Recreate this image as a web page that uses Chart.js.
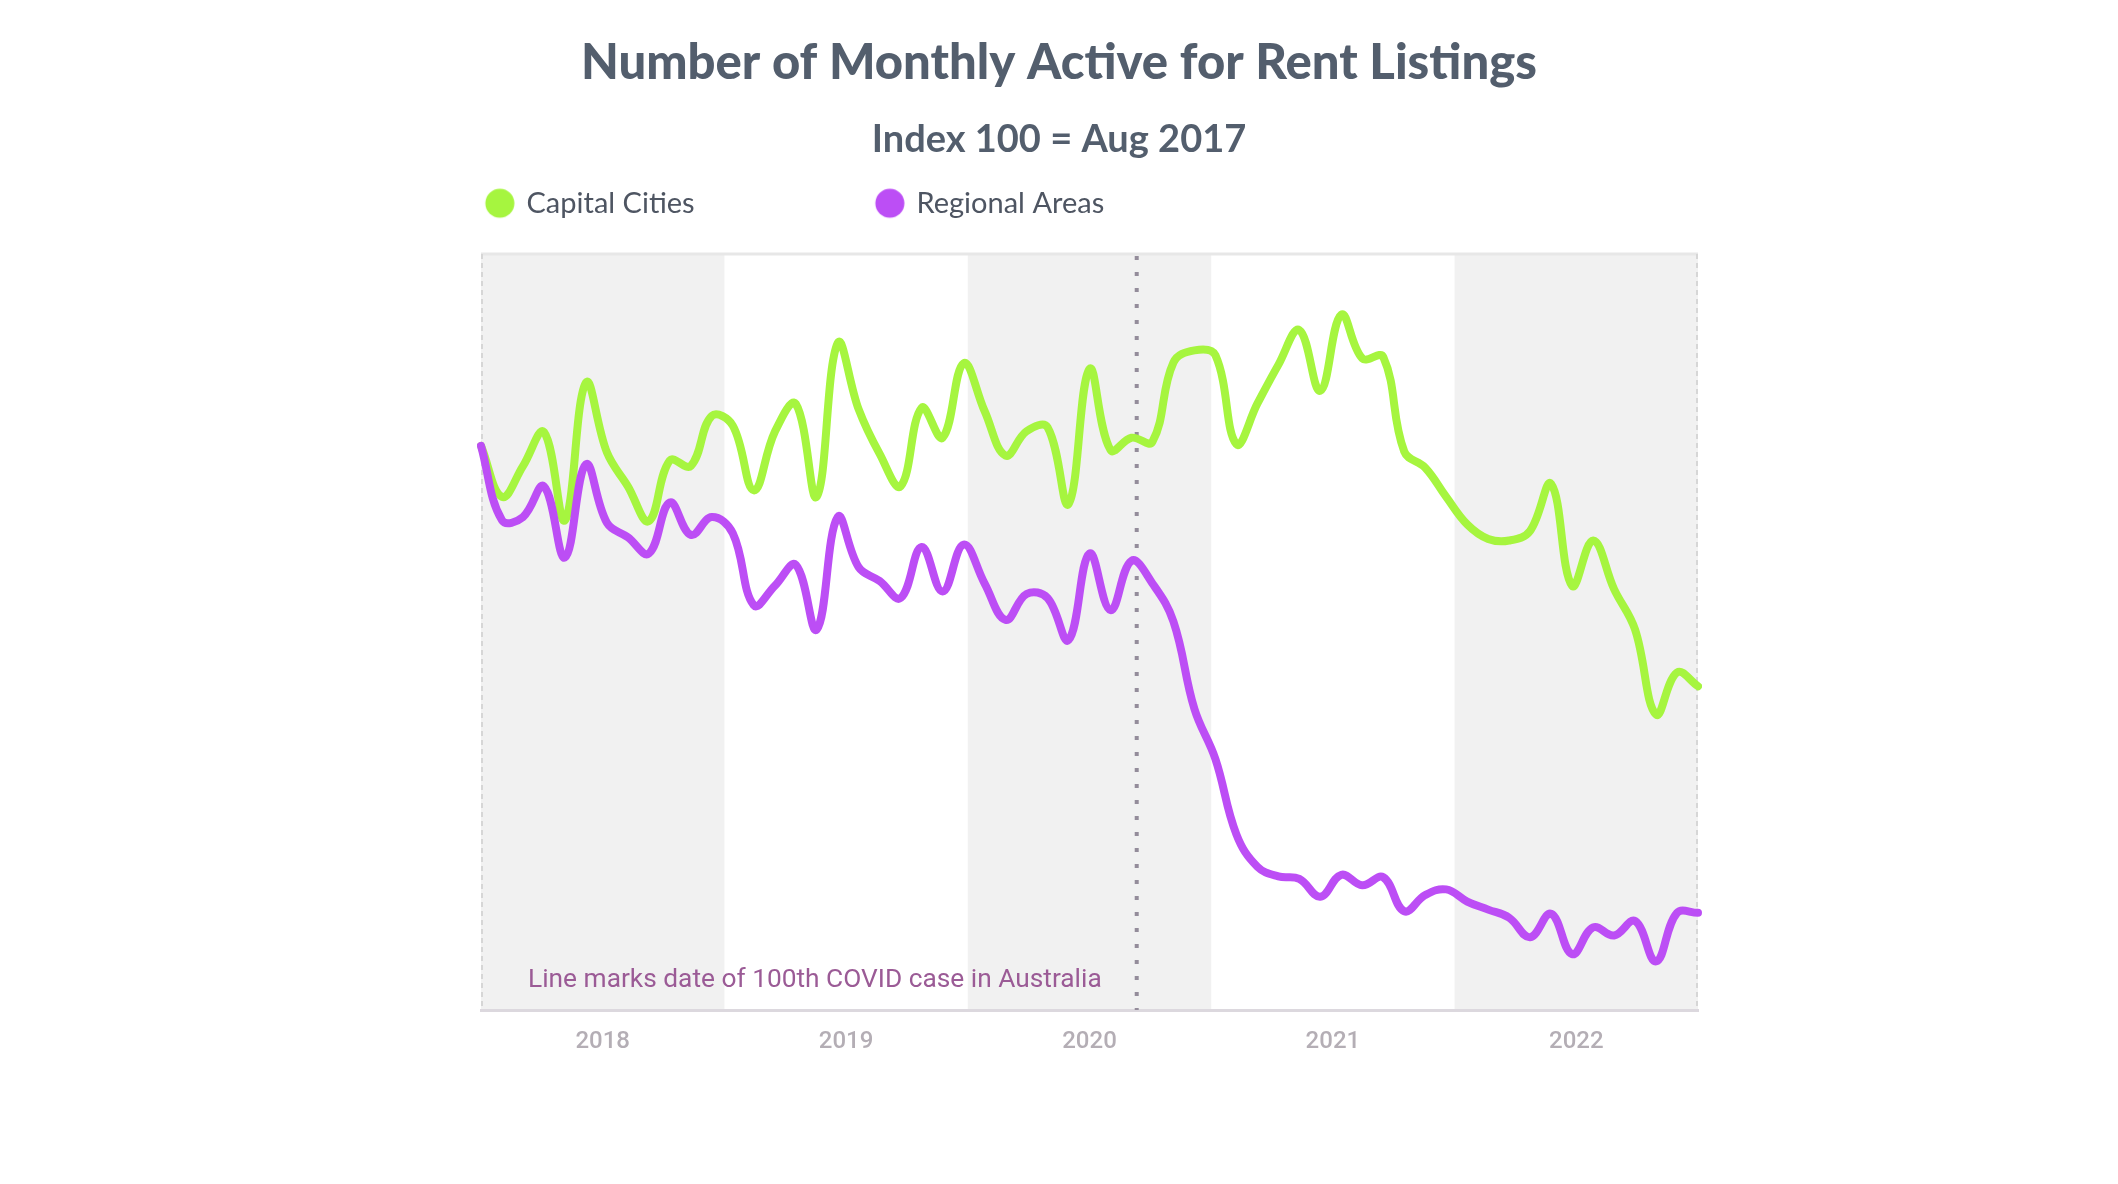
<!DOCTYPE html>
<html>
<head>
<meta charset="utf-8">
<script src="https://cdn.jsdelivr.net/npm/chart.js@4.4.0/dist/chart.umd.min.js"></script>
<style>
html,body{margin:0;padding:0;background:#ffffff;}
#wrap{width:2118px;height:1184px;position:relative;}
</style>
</head>
<body>
<div id="wrap"><canvas id="c"></canvas></div>
<script>
const months = [
  'Aug 2017','Sep 2017','Oct 2017','Nov 2017','Dec 2017',
  'Jan 2018','Feb 2018','Mar 2018','Apr 2018','May 2018','Jun 2018','Jul 2018','Aug 2018','Sep 2018','Oct 2018','Nov 2018','Dec 2018',
  'Jan 2019','Feb 2019','Mar 2019','Apr 2019','May 2019','Jun 2019','Jul 2019','Aug 2019','Sep 2019','Oct 2019','Nov 2019','Dec 2019',
  'Jan 2020','Feb 2020','Mar 2020','Apr 2020','May 2020','Jun 2020','Jul 2020','Aug 2020','Sep 2020','Oct 2020','Nov 2020','Dec 2020',
  'Jan 2021','Feb 2021','Mar 2021','Apr 2021','May 2021','Jun 2021','Jul 2021','Aug 2021','Sep 2021','Oct 2021','Nov 2021','Dec 2021',
  'Jan 2022','Feb 2022','Mar 2022','Apr 2022','May 2022','Jun 2022'
];
const capitalCities = [
  100, 93.7, 97.5, 101.7, 90.8, 107.8, 99.2, 95, 90.7, 98.2,
  97.5, 103.7, 102.5, 94.5, 101.7, 105.2, 93.7, 112.7, 104.5, 99,
  95, 104.7, 101, 110.2, 104.3, 98.8, 101.8, 102.3, 92.8, 109.5,
  99.5, 101, 100.5, 110.3, 111.8, 111.2, 100.2, 105.2, 110, 114.3,
  106.8, 116.2, 110.8, 111, 99.3, 97.3, 93.7, 90.3, 88.5, 88.3,
  89.5, 95.3, 82.7, 88.3, 82.3, 77.3, 66.8, 72, 70.3
];
const regionalAreas = [
  100, 90.8, 91.2, 95, 86.2, 97.7, 90.5, 88.7, 86.7, 93,
  89, 91.2, 89.2, 80.3, 82.7, 85.3, 77.3, 91.2, 85, 83.3,
  81.2, 87.5, 82, 87.8, 83, 78.5, 81.7, 81.2, 76, 86.7,
  79.7, 85.8, 83, 78.3, 67.5, 61.3, 52, 48, 46.8, 46.5,
  44.3, 47, 45.7, 46.7, 42.5, 44.5, 45.2, 43.7, 42.7, 41.7,
  39.3, 42.2, 37.2, 40.5, 39.5, 41.3, 36.3, 42.3, 42.3
];
const yearLabels = ['2018','2019','2020','2021','2022'];
const seriesNames = ['Capital Cities','Regional Areas'];
const covidMonthIndex = 31.25;
const yMin = 30.3, yMax = 123.7;

const GREEN = '#a6f53f';
const PURPLE = '#bc4ef5';
const TITLE_COLOR = '#535e6d';

// ---- layout helpers ----
const CANVAS_W = 2118;
const PLOT_L = 481, PLOT_R = 1698;
const LEG_FONT_SIZE = 29;
const LEG_PAD = 20;
const mctx = document.createElement('canvas').getContext('2d');
mctx.font = '400 ' + LEG_FONT_SIZE + 'px Lato';
const t1 = mctx.measureText(seriesNames[0]).width;
const LEG_C1 = 500, LEG_C2 = 890;
const W = (LEG_C2 - LEG_C1) - LEG_FONT_SIZE / 2 - t1 - LEG_PAD;
const Lp = (LEG_C1 + 12) - W - LEG_PAD;
const yAxisWidth = PLOT_L - Lp;
const Rp = Lp;
const rightBox = CANVAS_W - Rp - PLOT_R;

function makeDot(color) {
  const c = document.createElement('canvas');
  c.width = Math.round(W) + 6; c.height = 32;
  const g = c.getContext('2d');
  g.fillStyle = color;
  g.beginPath();
  g.arc(c.width - 3 - 12, 16, 14.5, 0, Math.PI * 2);
  g.fill();
  return c;
}

const decor = {
  id: 'decor',
  beforeDraw(chart) {
    const {ctx, chartArea: a, scales} = chart;
    const x2 = scales.x2;
    ctx.save();
    ctx.fillStyle = '#f1f1f1';
    for (let k = 0; k < yearLabels.length; k += 2) {
      const l = x2.getPixelForValue(k - 0.5), r = x2.getPixelForValue(k + 0.5);
      ctx.fillRect(l, a.top, r - l, a.bottom - a.top);
    }
    ctx.strokeStyle = '#e7e7e7';
    ctx.lineWidth = 3;
    ctx.beginPath(); ctx.moveTo(a.left, a.top); ctx.lineTo(a.right, a.top); ctx.stroke();
    ctx.setLineDash([5, 4]);
    ctx.strokeStyle = '#d6d6d6';
    ctx.lineWidth = 2;
    ctx.beginPath();
    ctx.moveTo(a.left + 1, a.top); ctx.lineTo(a.left + 1, a.bottom);
    ctx.moveTo(a.right - 1, a.top); ctx.lineTo(a.right - 1, a.bottom);
    ctx.stroke();
    ctx.restore();
  },
  beforeDatasetsDraw(chart) {
    const {ctx, chartArea: a, scales} = chart;
    const cx = scales.x.getPixelForValue(covidMonthIndex);
    ctx.save();
    ctx.setLineDash([4, 12]);
    ctx.strokeStyle = '#948c9a';
    ctx.lineWidth = 4;
    ctx.beginPath(); ctx.moveTo(cx, a.top + 2); ctx.lineTo(cx, a.bottom); ctx.stroke();
    ctx.setLineDash([]);
    ctx.font = '400 26.3px Roboto';
    ctx.fillStyle = '#9b5b96';
    ctx.textAlign = 'right';
    ctx.textBaseline = 'alphabetic';
    ctx.fillText('Line marks date of 100th COVID case in Australia', cx - 35, a.bottom - 23);
    ctx.restore();
  }
};

Chart.defaults.font.family = 'Lato';

new Chart(document.getElementById('c'), {
  type: 'line',
  data: {
    labels: months,
    datasets: [
      {label: seriesNames[0], data: capitalCities, borderColor: GREEN, backgroundColor: GREEN,
       borderWidth: 8, pointRadius: 0, pointHoverRadius: 0, tension: 0.4, fill: false,
       borderCapStyle: 'round', borderJoinStyle: 'round', xAxisID: 'x', yAxisID: 'y', order: 1},
      {label: seriesNames[1], data: regionalAreas, borderColor: PURPLE, backgroundColor: PURPLE,
       borderWidth: 8, pointRadius: 0, pointHoverRadius: 0, tension: 0.4, fill: false,
       borderCapStyle: 'round', borderJoinStyle: 'round', xAxisID: 'x', yAxisID: 'y', order: 0}
    ]
  },
  options: {
    responsive: true,
    maintainAspectRatio: false,
    devicePixelRatio: 1,
    animation: false,
    layout: {padding: {left: Lp, right: Rp, top: 0, bottom: 129}},
    plugins: {
      title: {
        display: true,
        text: 'Number of Monthly Active for Rent Listings',
        color: TITLE_COLOR,
        font: {family: 'Lato', size: 49, weight: '900', lineHeight: 1.2},
        padding: {top: 34, bottom: 24.3}
      },
      subtitle: {
        display: true,
        text: 'Index 100 = Aug 2017',
        color: TITLE_COLOR,
        font: {family: 'Lato', size: 38, weight: 'bold', lineHeight: 1.2},
        padding: {top: 0, bottom: 6}
      },
      legend: {
        display: true,
        position: 'top',
        align: 'start',
        labels: {
          usePointStyle: true,
          pointStyleWidth: W,
          boxHeight: 20,
          padding: LEG_PAD,
          font: {family: 'Lato', size: LEG_FONT_SIZE, weight: '400'},
          color: '#4e5562',
          generateLabels(chart) {
            return chart.data.datasets.map((ds, i) => ({
              text: ds.label,
              fillStyle: ds.borderColor,
              strokeStyle: ds.borderColor,
              lineWidth: 0,
              fontColor: '#4e5562',
              pointStyle: makeDot(ds.borderColor),
              hidden: !chart.isDatasetVisible(i),
              datasetIndex: i
            }));
          }
        }
      },
      tooltip: {enabled: false}
    },
    scales: {
      x: {
        type: 'category',
        position: 'top',
        display: true,
        grid: {display: false},
        border: {display: false},
        ticks: {display: false},
        afterFit(s) { s.height = 26.3; }
      },
      x2: {
        type: 'category',
        labels: yearLabels,
        offset: true,
        position: 'bottom',
        grid: {display: false},
        border: {display: true, color: '#dcd8de', width: 3},
        ticks: {color: '#b4aeb5', font: {family: 'Roboto', size: 24, weight: '500'}, padding: 10, maxRotation: 0, autoSkip: false},
        afterFit(s) { s.height = 45; }
      },
      y: {
        type: 'linear',
        position: 'left',
        min: yMin, max: yMax,
        display: true,
        grid: {display: false},
        border: {display: false},
        ticks: {display: false},
        afterFit(s) { s.width = yAxisWidth; }
      },
      y2: {
        type: 'linear',
        position: 'right',
        display: true,
        grid: {display: false},
        border: {display: false},
        ticks: {display: false},
        afterFit(s) { s.width = rightBox; }
      }
    }
  },
  plugins: [decor]
});
</script>
</body>
</html>
